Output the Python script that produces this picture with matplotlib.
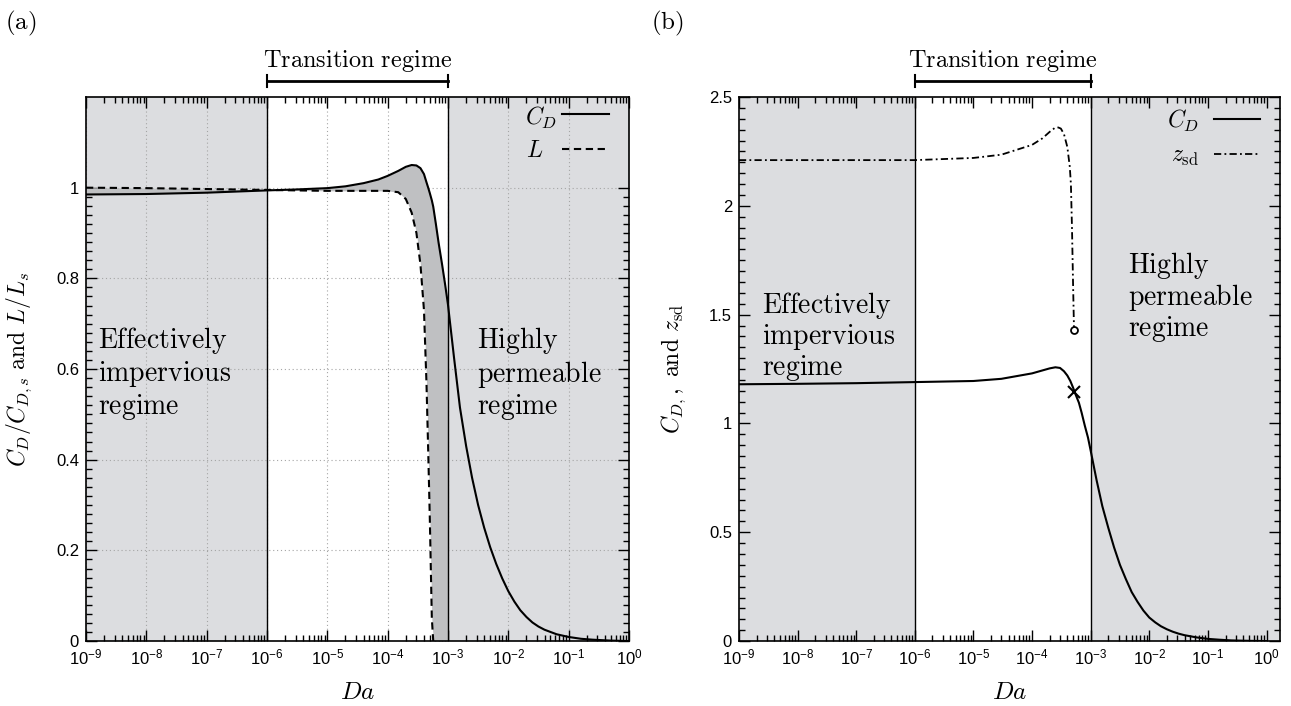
import numpy as np
import matplotlib
matplotlib.use('Agg')
import matplotlib.pyplot as plt
from matplotlib import ticker, transforms

plt.rcParams['font.family'] = ['Liberation Sans', 'DejaVu Sans']
plt.rcParams['mathtext.fontset'] = 'custom'
plt.rcParams['mathtext.rm'] = 'Liberation Sans'
plt.rcParams['mathtext.it'] = 'Liberation Sans:italic'
plt.rcParams['mathtext.bf'] = 'Liberation Sans:bold'

# ---- data ----
# panel (a): normalised drag and lift against Darcy number
da_a = [1e-9, 1e-8, 1e-7, 1e-6, 3e-6, 1e-5, 2e-5, 4e-5, 7e-5, 1e-4, 1.5e-4, 2e-4,
        2.5e-4, 3e-4, 3.5e-4, 4e-4, 4.4e-4, 4.7e-4, 5e-4, 5.4e-4, 5.7e-4, 6.3e-4,
        7e-4, 8e-4, 9e-4, 1e-3, 1.26e-3, 1.58e-3, 2e-3, 2.51e-3, 3.16e-3, 3.98e-3,
        5.01e-3, 6.31e-3, 7.94e-3, 1e-2, 1.26e-2, 1.58e-2, 2e-2, 2.51e-2, 3.16e-2,
        3.98e-2, 6.31e-2, 0.1, 0.16, 0.25, 0.5, 1.0]
cd_a = [0.985, 0.986, 0.989, 0.994, 0.996, 0.999, 1.003, 1.010, 1.018, 1.026, 1.037, 1.046,
        1.050, 1.049, 1.043, 1.030, 1.012, 1.000, 0.988, 0.972, 0.958, 0.920,
        0.878, 0.830, 0.785, 0.742, 0.625, 0.515, 0.430, 0.360, 0.300, 0.250,
        0.207, 0.170, 0.138, 0.110, 0.087, 0.068, 0.053, 0.041, 0.032,
        0.025, 0.015, 0.009, 0.005, 0.003, 0.001, 0.0]
l_a = [1.000, 0.999, 0.997, 0.995, 0.994, 0.993, 0.993, 0.993, 0.993, 0.993, 0.990, 0.975,
       0.945, 0.900, 0.830, 0.730, 0.570, 0.420, 0.270, 0.050, 0.0, 0.0,
       0.0, 0.0, 0.0, 0.0, 0.0, 0.0, 0.0, 0.0, 0.0, 0.0,
       0.0, 0.0, 0.0, 0.0, 0.0, 0.0, 0.0, 0.0, 0.0,
       0.0, 0.0, 0.0, 0.0, 0.0, 0.0, 0.0]

# panel (b): drag coefficient and separation distance
da_b = [1e-9, 1e-8, 1e-7, 1e-6, 1e-5, 3e-5, 1e-4, 2e-4, 2.5e-4, 3e-4, 3.5e-4, 4e-4,
        4.5e-4, 5e-4, 5.5e-4, 6.3e-4, 7e-4, 7.94e-4, 9e-4, 1e-3, 1.26e-3, 1.58e-3,
        2e-3, 2.51e-3, 3.16e-3, 3.98e-3, 5.01e-3, 6.31e-3, 7.94e-3, 1e-2, 1.26e-2,
        1.58e-2, 2e-2, 2.51e-2, 3.16e-2, 3.98e-2, 6.31e-2, 0.1, 0.16, 0.25, 0.5, 1.0]
cd_b = [1.180, 1.182, 1.185, 1.190, 1.195, 1.205, 1.230, 1.253, 1.258, 1.255, 1.240, 1.220,
        1.195, 1.165, 1.135, 1.095, 1.050, 0.990, 0.935, 0.875, 0.740, 0.620,
        0.520, 0.430, 0.350, 0.285, 0.225, 0.180, 0.140, 0.108, 0.086,
        0.068, 0.054, 0.043, 0.034, 0.027, 0.017, 0.010, 0.006, 0.003, 0.001, 0.0]
da_z = [1e-9, 1e-8, 1e-7, 1e-6, 1e-5, 3e-5, 1e-4, 1.5e-4, 2e-4, 2.5e-4, 2.8e-4, 3.1e-4,
        3.5e-4, 4e-4, 4.4e-4, 4.6e-4, 4.8e-4, 5e-4, 5.2e-4]
z_sd = [2.21, 2.21, 2.21, 2.21, 2.22, 2.235, 2.28, 2.31, 2.34, 2.36, 2.36, 2.355,
        2.33, 2.27, 2.18, 2.10, 1.90, 1.65, 1.43]
cross_da = [5.2e-4]
cross_cd = [1.145]

light = '#dcdde0'
dark = '#bfc0c2'
LW = 1.5


def cm(text):
    # one line of computer-modern roman text per word group
    return '\n'.join(r'$\mathrm{%s}$' % w.replace(' ', r'\ ') for w in text)


def style_axes(ax, xmax, ymax, major, minor):
    ax.set_xscale('log')
    ax.set_xlim(1e-9, xmax)
    ax.set_ylim(0, ymax)
    ax.axvspan(1e-9, 1e-6, color=light, zorder=0.1, lw=0)
    ax.axvspan(1e-3, xmax, color=light, zorder=0.1, lw=0)
    ax.axvline(1e-6, color='k', lw=1.0, zorder=3)
    ax.axvline(1e-3, color='k', lw=1.0, zorder=3)
    ax.xaxis.set_major_locator(ticker.LogLocator(base=10, numticks=20))
    ax.xaxis.set_minor_locator(ticker.LogLocator(base=10, subs=np.arange(2, 10), numticks=200))
    ax.xaxis.set_minor_formatter(ticker.NullFormatter())
    ax.yaxis.set_major_locator(ticker.FixedLocator(major))
    ax.yaxis.set_minor_locator(ticker.FixedLocator(minor))
    ax.yaxis.set_major_formatter(ticker.FuncFormatter(lambda v, p: ('%g' % v)))
    ax.tick_params(which='both', direction='in', top=True, right=True, labelsize=12, width=1.0)
    ax.tick_params(which='major', length=8, pad=5)
    ax.tick_params(which='minor', length=4)
    for s in ax.spines.values():
        s.set_linewidth(1.2)
    ax.set_xlabel(r'$Da$', fontsize=18, math_fontfamily='cm')
    ax.xaxis.set_label_coords(0.5, -0.072)
    # transition regime bracket
    tr = transforms.blended_transform_factory(ax.transData, ax.transAxes)
    ax.plot([1e-6, 1e-3], [1.029, 1.029], color='k', lw=2, transform=tr, clip_on=False)
    for xv in (1e-6, 1e-3):
        ax.plot([xv, xv], [1.018, 1.040], color='k', lw=1.5, transform=tr, clip_on=False)
    ax.text(10 ** -4.5, 1.043, cm(['Transition regime']), transform=tr, ha='center',
            va='bottom', fontsize=17.5, math_fontfamily='cm')


fig = plt.figure(figsize=(12.91, 7.06), dpi=100)
ax1 = fig.add_axes([0.0666, 0.092, 0.4206, 0.7706])
ax2 = fig.add_axes([0.5724, 0.092, 0.4191, 0.7706])

# ---- panel (a) ----
style_axes(ax1, 1.0, 1.2, np.arange(0, 1.01, 0.2), np.arange(0, 1.001, 0.02))
ax1.set_axisbelow(True)
ax1.grid(True, which='major', color='#a5a5a5', lw=0.8, ls=(0, (1, 2.5)))
da_arr = np.array(da_a)
ax1.fill_between(da_arr, l_a, cd_a, where=da_arr <= 1e-3, color=dark, lw=0, zorder=1)
ax1.plot(da_a, cd_a, color='k', lw=LW, zorder=4)
n_l = l_a.index(0.0) + 1
ax1.plot(da_a[:n_l], l_a[:n_l], color='k', lw=LW, dashes=(3.5, 2.2), zorder=4)
ax1.set_ylabel(r'$C_D/C_{D,s}\ \mathrm{and}\ L/L_s$', fontsize=17, math_fontfamily='cm')
ax1.yaxis.set_label_coords(-0.095, 0.5)
ax1.text(10 ** -8.8, 0.59, cm(['Effectively', 'impervious', 'regime']), fontsize=20,
         math_fontfamily='cm', ha='left', va='center', linespacing=1.12)
ax1.text(10 ** -2.52, 0.59, cm(['Highly', 'permeable', 'regime']), fontsize=20,
         math_fontfamily='cm', ha='left', va='center', linespacing=1.12)
# key
ax1.text(0.808, 0.962, r'$C_D$', transform=ax1.transAxes, fontsize=17, math_fontfamily='cm',
         ha='left', va='center')
ax1.plot([0.877, 0.963], [0.969, 0.969], color='k', lw=LW, transform=ax1.transAxes)
ax1.text(0.811, 0.900, r'$L$', transform=ax1.transAxes, fontsize=17, math_fontfamily='cm',
         ha='left', va='center')
ax1.plot([0.877, 0.963], [0.904, 0.904], color='k', lw=LW, dashes=(3.5, 2.2),
         transform=ax1.transAxes)

# ---- panel (b) ----
style_axes(ax2, 1.7, 2.5, np.arange(0, 2.51, 0.5), np.arange(0, 2.501, 0.05))
ax2.plot(da_b, cd_b, color='k', lw=LW, zorder=4)
ax2.plot(da_z, z_sd, color='k', lw=1.3, dashes=(4, 1.8, 1, 1.8), zorder=4)
ax2.plot(da_z[-1:], z_sd[-1:], 'o', ms=5, mfc='white', mec='k', mew=1.3, zorder=5)
ax2.plot(cross_da, cross_cd, 'x', ms=8, color='k', mew=1.5, zorder=5)
ax2.set_ylabel(r'$C_{D,}\mathrm{,\ and}\ z_{\mathrm{sd}}$', fontsize=17, math_fontfamily='cm')
ax2.yaxis.set_label_coords(-0.095, 0.5)
ax2.text(10 ** -8.6, 1.40, cm(['Effectively', 'impervious', 'regime']), fontsize=20,
         math_fontfamily='cm', ha='left', va='center', linespacing=1.05)
ax2.text(10 ** -2.37, 1.58, cm(['Highly', 'permeable', 'regime']), fontsize=20,
         math_fontfamily='cm', ha='left', va='center', linespacing=1.05)
ax2.text(0.850, 0.955, r'$C_D$', transform=ax2.transAxes, fontsize=17, math_fontfamily='cm',
         ha='right', va='center')
ax2.plot([0.878, 0.963], [0.960, 0.960], color='k', lw=LW, transform=ax2.transAxes)
ax2.text(0.850, 0.890, r'$z_{\mathrm{sd}}$', transform=ax2.transAxes, fontsize=17,
         math_fontfamily='cm', ha='right', va='center')
ax2.plot([0.878, 0.963], [0.895, 0.895], color='k', lw=1.3, dashes=(4, 1.8, 1, 1.8),
         transform=ax2.transAxes)

fig.text(0.004, 0.988, cm(['(a)']), fontsize=18, math_fontfamily='cm', ha='left', va='top')
fig.text(0.504, 0.988, cm(['(b)']), fontsize=18, math_fontfamily='cm', ha='left', va='top')

fig.savefig('out.png', dpi=100)
